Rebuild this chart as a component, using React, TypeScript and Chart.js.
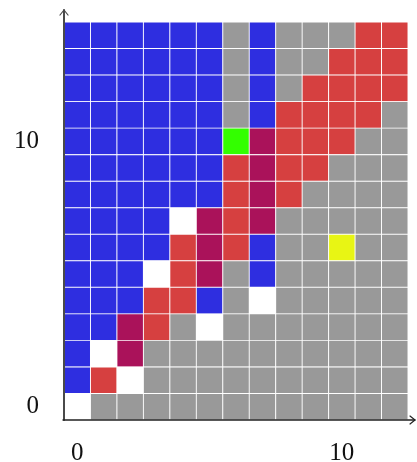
import React, { useEffect, useRef } from "react";
import { Chart, registerables } from "chart.js";

Chart.register(...registerables);

// Column indices (x) and row indices (y, bottom = 0)
const columns = ["0", "1", "2", "3", "4", "5", "6", "7", "8", "9", "10", "11", "12"];
const rowIndices = [0, 1, 2, 3, 4, 5, 6, 7, 8, 9, 10, 11, 12, 13, 14];

// Cell state codes per row, bottom row (0) first, columns 0..12
// B blue, G gray, R red, M magenta, W white, L lime, Y yellow
const cellRows = [
  "WGGGGGGGGGGGG",
  "BRWGGGGGGGGGG",
  "BWMGGGGGGGGGG",
  "BBMRGWGGGGGGG",
  "BBBRRBGWGGGGG",
  "BBBWRMGBGGGGG",
  "BBBBRMRBGGYGG",
  "BBBBWMRMGGGGG",
  "BBBBBBRMRGGGG",
  "BBBBBBRMRRGGG",
  "BBBBBBLMRRRGG",
  "BBBBBBGBRRRRG",
  "BBBBBBGBGRRRR",
  "BBBBBBGBGGRRR",
  "BBBBBBGBGGGRR",
];

const xTickLabels = [0, 10];
const yTickLabels = [0, 10];

const stateColors: Record<string, string> = {
  B: "#2E2EE0",
  G: "#999999",
  R: "#D64040",
  M: "#AA125A",
  W: "#FFFFFF",
  L: "#33FF00",
  Y: "#E8F514",
};

const axisArrows = {
  id: "axisArrows",
  afterDraw(chart: any) {
    const { ctx, chartArea } = chart;
    const { left, right, top, bottom } = chartArea;
    ctx.save();
    ctx.lineCap = "round";
    ctx.lineJoin = "round";
    // y axis
    ctx.strokeStyle = "#4a4a4a";
    ctx.lineWidth = 2;
    ctx.beginPath();
    ctx.moveTo(left, bottom);
    ctx.lineTo(left, top - 12);
    ctx.stroke();
    ctx.lineWidth = 1.2;
    ctx.beginPath();
    ctx.moveTo(left - 4, top - 7);
    ctx.lineTo(left, top - 12);
    ctx.lineTo(left + 4, top - 7);
    ctx.stroke();
    // x axis
    ctx.strokeStyle = "#222222";
    ctx.lineWidth = 1.4;
    ctx.beginPath();
    ctx.moveTo(left - 1, bottom);
    ctx.lineTo(right + 7, bottom);
    ctx.stroke();
    ctx.lineWidth = 1.2;
    ctx.beginPath();
    ctx.moveTo(right + 2, bottom - 4);
    ctx.lineTo(right + 7, bottom);
    ctx.lineTo(right + 2, bottom + 4);
    ctx.stroke();
    ctx.restore();
  },
};

export default function App() {
  const canvasRef = useRef<HTMLCanvasElement | null>(null);

  useEffect(() => {
    const canvas = canvasRef.current;
    if (!canvas) return;
    const datasets = rowIndices.map((r) => ({
      label: "row " + r,
      data: columns.map(() => [r - 0.5, r + 0.5]),
      backgroundColor: cellRows[r].split("").map((c) => stateColors[c]),
      borderColor: "#FFFFFF",
      borderWidth: 0.8,
      borderSkipped: false,
      grouped: false,
      barPercentage: 1,
      categoryPercentage: 1,
    }));

    const chart = new Chart(canvas, {
      type: "bar",
      data: { labels: columns, datasets: datasets as any },
      plugins: [axisArrows],
      options: {
        animation: false,
        responsive: false,
        maintainAspectRatio: false,
        layout: { padding: { top: 22, right: 9, left: 0, bottom: 0 } },
        plugins: {
          legend: { display: false },
          tooltip: { enabled: false },
        },
        scales: {
          x: {
            type: "category",
            offset: true,
            grid: { display: false },
            border: { display: false },
            afterFit: (s: any) => {
              s.height = 42;
              s.paddingLeft = 0;
              s.paddingRight = 0;
            },
            ticks: {
              autoSkip: false,
              maxRotation: 0,
              padding: 10,
              color: "#111111",
              font: { family: "'Liberation Serif', serif", size: 25 },
              callback: (_v: any, i: number) =>
                xTickLabels.includes(i) ? String(i) : "",
            },
          },
          y: {
            type: "linear",
            min: -0.5,
            max: 14.5,
            grid: { display: false },
            border: { display: false },
            afterFit: (s: any) => {
              s.width = 64;
              s.paddingTop = 0;
              s.paddingBottom = 0;
            },
            afterBuildTicks: (s: any) => {
              s.ticks = yTickLabels.map((v) => ({ value: v }));
            },
            ticks: {
              padding: 17,
              color: "#111111",
              font: { family: "'Liberation Serif', serif", size: 25 },
              callback: (v: any) => String(v),
            },
          },
        },
      },
    });
    return () => chart.destroy();
  }, []);

  return (
    <div style={{ position: "absolute", left: 0, top: 0, width: 417, height: 462 }}>
      <canvas ref={canvasRef} width={417} height={462} style={{ width: 417, height: 462 }} />
    </div>
  );
}
